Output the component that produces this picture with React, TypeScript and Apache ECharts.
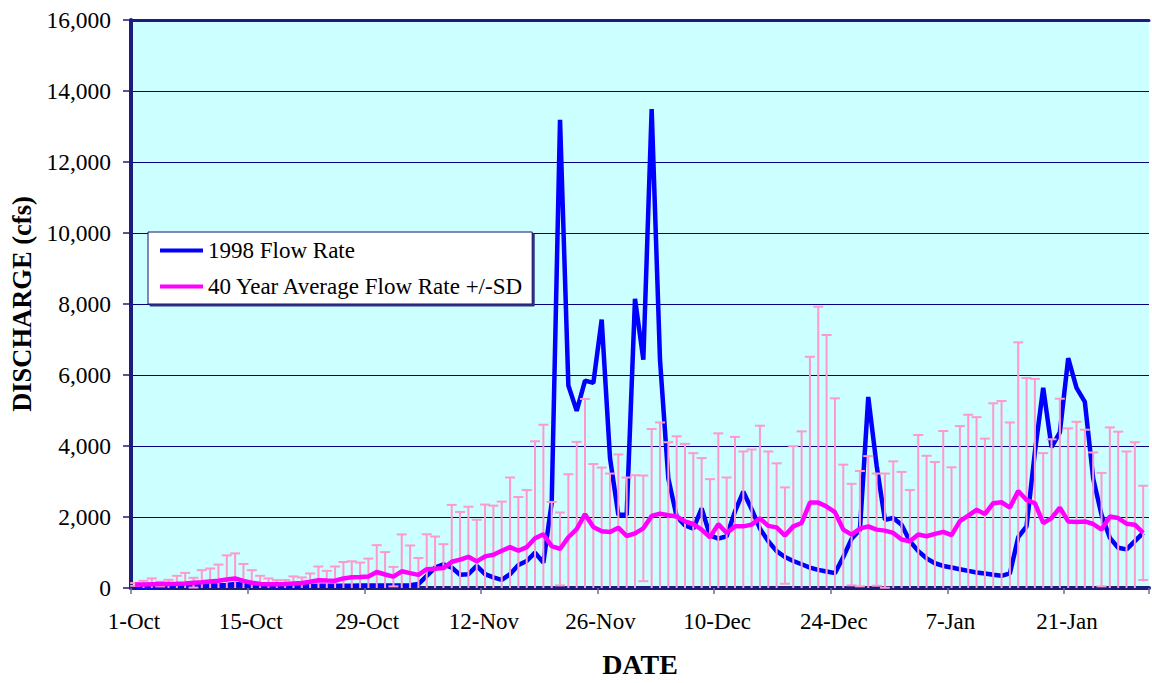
import React, { useEffect, useRef } from 'react';
import * as echarts from 'echarts';

// Tick labels every 14 days starting 1-Oct
const tickLabels = ['1-Oct', '15-Oct', '29-Oct', '12-Nov', '26-Nov', '10-Dec', '24-Dec', '7-Jan', '21-Jan'];

// 1998 daily flow rate (cfs), 1-Oct .. 31-Jan
const flow1998 = [
  30, 40, 45, 50, 55, 60, 60, 65, 70, 70,
  75, 85, 110, 90, 70, 60, 55, 50, 50, 50,
  55, 55, 60, 60, 60, 65, 65, 70, 70, 70,
  70, 70, 70, 75, 110, 343, 576, 669, 576, 371,
  390, 622, 390, 298, 231, 390, 650, 761, 995, 716,
  2400, 13190, 5705, 4989, 5840, 5778, 7561, 3660, 2062, 2062,
  8146, 6429, 13489, 6429, 3085, 2015, 1760, 1670, 2240, 1480,
  1390, 1458, 2154, 2712, 2220, 1670, 1318, 1040, 872, 761,
  669, 576, 511, 465, 418, 872, 1385, 1644, 5380, 3456,
  1923, 1970, 1784, 1318, 1040, 836, 697, 622, 576, 530,
  482, 437, 410, 371, 343, 410, 1430, 1736, 3827, 5638,
  3966, 4384, 6474, 5638, 5240, 3085, 2062, 1413, 1134, 1087,
  1318, 1552,
];

// 40 year average daily flow rate (cfs)
const avg40 = [
  100, 100, 105, 110, 115, 120, 130, 150, 165, 185,
  205, 240, 270, 200, 150, 115, 105, 105, 110, 125,
  140, 175, 220, 210, 205, 270, 300, 310, 326, 450,
  380, 320, 470, 420, 371, 530, 540, 560, 740, 800,
  880, 750, 890, 935, 1050, 1150, 1050, 1150, 1400, 1515,
  1180, 1100, 1430, 1660, 2080, 1720, 1600, 1580, 1700, 1465,
  1540, 1680, 2030, 2095, 2050, 2015, 1876, 1803, 1644, 1430,
  1800, 1550, 1736, 1736, 1784, 1960, 1750, 1708, 1477, 1736,
  1831, 2405, 2405, 2294, 2138, 1644, 1505, 1672, 1736, 1644,
  1616, 1552, 1366, 1318, 1505, 1458, 1524, 1580, 1490, 1885,
  2040, 2202, 2082, 2388, 2416, 2266, 2731, 2480, 2388, 1831,
  1970, 2266, 1876, 1859, 1876, 1803, 1644, 2015, 1970, 1812,
  1784, 1552,
];

// 40 year standard deviation (cfs)
const sd40 = [
  40, 103, 165, 66, 116, 223, 296, 137, 337, 364,
  455, 680, 705, 477, 352, 228, 165, 118, 113, 201,
  158, 235, 385, 272, 400, 463, 452, 406, 502, 757,
  632, 274, 1040, 778, 474, 983, 909, 675, 1600, 1342,
  1410, 1173, 1460, 1385, 1383, 1963, 1514, 1609, 2733, 3084,
  1245, 1027, 1775, 2456, 3245, 1772, 1792, 1644, 2062, 1648,
  1637, 1488, 2448, 2568, 2056, 2258, 2184, 1996, 2016, 1636,
  2556, 1563, 2520, 2110, 2118, 2611, 2096, 1804, 1357, 2258,
  2581, 4108, 5519, 4832, 3205, 1831, 1430, 1625, 1979, 1580,
  1608, 2015, 1904, 1441, 2806, 2267, 2024, 2842, 1910, 2676,
  2840, 2610, 2126, 2815, 2851, 2397, 4189, 3437, 3501, 1968,
  2219, 3066, 2620, 2823, 2583, 2015, 1598, 2509, 2433, 2034,
  2322, 1327,
];

const FONT = "'Liberation Serif', 'Times New Roman', serif";
const NAVY = '#1c1c7c';
const X_MAX = 122.2;

export default function App() {
  const ref = useRef<HTMLDivElement>(null);

  useEffect(() => {
    if (!ref.current) return;
    const chart = echarts.init(ref.current, null, { renderer: 'svg' });

    const flowData = flow1998.map((v, i) => [i + 0.5, v]);
    const avgData = avg40.map((v, i) => [i + 0.5, v]);
    const errData = avg40.map((v, i) => [i + 0.5, v - sd40[i], v + sd40[i]]);

    chart.setOption({
      animation: false,
      backgroundColor: '#ffffff',
      grid: {
        left: 128,
        top: 20,
        right: 0,
        bottom: 89,
        show: true,
        backgroundColor: '#CCFFFF',
        borderWidth: 0,
      },
      legend: {
        show: true,
        orient: 'vertical',
        left: 148,
        top: 232,
        padding: [7, 8, 6, 12],
        itemGap: 13,
        itemWidth: 43,
        itemHeight: 4,
        selectedMode: false,
        backgroundColor: '#ffffff',
        borderColor: '#101070',
        borderWidth: 1,
        shadowColor: '#303080',
        shadowOffsetX: 2,
        shadowOffsetY: 2,
        shadowBlur: 0,
        textStyle: { fontFamily: FONT, fontSize: 23, color: '#000000', lineHeight: 23 },
        data: [
          { name: '1998 Flow Rate', icon: 'rect' },
          { name: '40 Year Average Flow Rate +/-SD', icon: 'rect' },
        ],
      },
      xAxis: [
        {
          type: 'value',
          min: 0,
          max: X_MAX,
          interval: 14,
          axisLine: { show: true, onZero: false, lineStyle: { color: NAVY, width: 4 } },
          axisTick: { show: true, length: 6, lineStyle: { color: '#6a6aaa', width: 1.5 } },
          axisLabel: {
            color: '#000000',
            fontFamily: FONT,
            fontSize: 23,
            margin: 22,
            padding: [0, 0, 0, 6],
            formatter: (v: number) => {
              const k = Math.round(v / 14);
              return Math.abs(v - k * 14) < 1e-6 ? tickLabels[k] ?? '' : '';
            },
          },
          splitLine: { show: false },
          name: 'DATE',
          nameLocation: 'middle',
          nameGap: 62,
          nameTextStyle: { fontFamily: FONT, fontWeight: 'bold', fontSize: 28, color: '#000000' },
        },
        {
          type: 'value',
          position: 'top',
          min: 0,
          max: X_MAX,
          interval: 14,
          axisLine: { show: true, onZero: false, lineStyle: { color: NAVY, width: 3 } },
          axisTick: { show: false },
          axisLabel: { show: false },
          splitLine: { show: false },
        },
      ],
      yAxis: {
        type: 'value',
        min: 0,
        max: 16000,
        interval: 2000,
        axisLine: { show: true, lineStyle: { color: NAVY, width: 4 } },
        axisTick: { show: true, length: 8, lineStyle: { color: NAVY, width: 1.5 } },
        axisLabel: {
          color: '#000000',
          fontFamily: FONT,
          fontSize: 23.5,
          margin: 20,
          formatter: (v: number) => v.toLocaleString('en-US'),
        },
        splitLine: { show: true, lineStyle: { color: '#000080', width: 1 } },
        name: 'DISCHARGE (cfs)',
        nameLocation: 'middle',
        nameRotate: 90,
        nameGap: 96,
        nameTextStyle: { fontFamily: FONT, fontWeight: 'bold', fontSize: 26.5, color: '#000000' },
      },
      series: [
        {
          name: '1998 Flow Rate',
          type: 'line',
          xAxisIndex: 0,
          data: flowData,
          symbol: 'none',
          color: '#0000FF',
          itemStyle: { color: '#0000FF' },
          lineStyle: { color: '#0000FF', width: 4.5 },
          z: 2,
        },
        {
          name: 'SD bars',
          type: 'custom',
          xAxisIndex: 0,
          data: errData,
          encode: { x: 0, y: [1, 2] },
          z: 3,
          renderItem: (params: any, api: any) => {
            const x = api.value(0);
            const lo = api.value(1);
            const hi = api.value(2);
            const pHi = api.coord([x, hi]);
            const pLo = api.coord([x, Math.max(lo, 0)]);
            const half = 5;
            const style = { stroke: '#FF99CC', lineWidth: 2 };
            const children: any[] = [
              { type: 'line', shape: { x1: pHi[0], y1: pHi[1], x2: pLo[0], y2: pLo[1] }, style },
              { type: 'line', shape: { x1: pHi[0] - half, y1: pHi[1], x2: pHi[0] + half, y2: pHi[1] }, style },
            ];
            if (lo > 0) {
              children.push({ type: 'line', shape: { x1: pLo[0] - half, y1: pLo[1], x2: pLo[0] + half, y2: pLo[1] }, style });
            }
            return { type: 'group', children };
          },
        },
        {
          name: '40 Year Average Flow Rate +/-SD',
          type: 'line',
          xAxisIndex: 0,
          data: avgData,
          symbol: 'none',
          color: '#FF00FF',
          itemStyle: { color: '#FF00FF' },
          lineStyle: { color: '#FF00FF', width: 4.5 },
          z: 4,
        },
      ],
    });

    return () => chart.dispose();
  }, []);

  return (
    <div
      ref={ref}
      style={{ position: 'absolute', left: 0, top: 0, width: 1152, height: 683, background: '#ffffff' }}
    />
  );
}
